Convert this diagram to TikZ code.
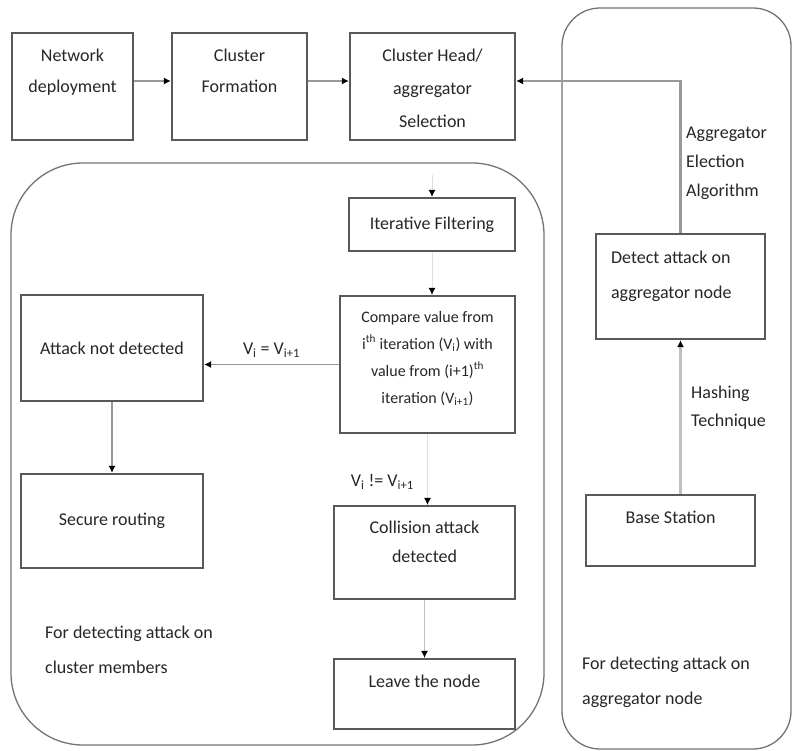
\documentclass[tikz,border=0pt]{standalone}
\usepackage{fontspec}
\setmainfont{Carlito}
\usetikzlibrary{arrows.meta,positioning,calc}

\begin{document}
\begin{tikzpicture}[
  x=1pt, y=-1pt,
  font=\fontsize{18}{31}\selectfont,
  text=black!85,
  box/.style={draw=black!65, line width=2.2pt, align=center, inner sep=2pt},
  toptext/.style={label={[align=center, anchor=north, inner sep=0pt, yshift=-17pt]north:#1}},
  panel/.style={draw=black!55, line width=1.3pt},
  arr/.style={draw=black!40, line width=2.4pt, -{Latex[length=7pt, width=7pt, black]}},
  faint/.style={arr, draw=black!12, line width=1pt},
  note/.style={align=left, inner sep=0pt, anchor=north west}
]
\useasboundingbox (0,0) rectangle (793,751);

% ---------- Paneles ----------
\draw[panel, rounded corners=72pt] (11,163) rectangle (544,745);
\draw[panel, rounded corners=38pt] (562,8) rectangle (791,749);

% ---------- Fila superior ----------
\node[box, minimum width=121pt, minimum height=107pt,
      toptext={Network\\deployment}] (deploy) at (72.5,86.5) {};
\node[box, minimum width=135pt, minimum height=107pt,
      toptext={Cluster\\Formation}] (form) at (239.5,86.5) {};
\node[box, minimum width=165pt, minimum height=107pt,
      label={[align=center, anchor=north, inner sep=0pt, yshift=-17pt,
              font=\fontsize{18}{33}\selectfont]north:Cluster Head/\\aggregator\\Selection}] (head) at (432.5,86.5) {};
\draw[arr] ([yshift=5.5pt]deploy.east) -- ([yshift=5.5pt]form.west);
\draw[arr] ([yshift=5.5pt]form.east) -- ([yshift=5.5pt]head.west);

% ---------- Miembros del cluster ----------
\coordinate (itin) at (432,175);
\node[box, minimum width=166pt, minimum height=53pt] (filter) at (432,224.5) {Iterative Filtering};
\node[box, minimum width=175pt, minimum height=137pt,
      label={[align=center, anchor=north, inner sep=0pt, yshift=-16pt,
              font=\fontsize{16}{27}\selectfont]north:Compare value from\\
              i\textsuperscript{th} iteration (V\textsubscript{i}) with\\
              value from (i+1)\textsuperscript{th}\\
              iteration (V\textsubscript{i+1})}] (compare) at (427.5,364.5) {};
\node[box, minimum width=182pt, minimum height=106pt] (notdet) at (112,348) {Attack not detected};
\node[box, minimum width=182pt, minimum height=94pt] (secure) at (112,521) {Secure routing};
\node[box, minimum width=181pt, minimum height=93pt,
      label={[align=center, anchor=north, inner sep=0pt, yshift=-16pt,
              font=\fontsize{18}{29}\selectfont]north:Collision attack\\detected}] (collision) at (424.5,552.5) {};
\node[box, minimum width=181pt, minimum height=70pt,
      toptext={Leave the node}] (leave) at (424.5,694) {};

\draw[faint] (itin) -- (filter.north);
\draw[faint] (filter.south) -- (filter.south |- compare.north);
\draw[arr, line width=1.4pt] (compare.west) -- (compare.west -| notdet.east)
  node[midway, above=3pt] (eq) {V\textsubscript{i} = V\textsubscript{i+1}};
\draw[arr] (notdet) -- (secure);
\draw[faint] (compare.south) -- (compare.south |- collision.north)
  node[pos=0.68, xshift=-10pt, anchor=east] (neq) {V\textsubscript{i} != V\textsubscript{i+1}};
\draw[faint, draw=black!25] (collision) -- (leave);

\node[note, font=\fontsize{18}{35}\selectfont] (cmtxt) at (45,626) {For detecting attack on\\cluster members};

% ---------- Nodo agregador ----------
\node[box, minimum width=169pt, minimum height=105pt,
      label={[align=left, anchor=north west, inner sep=0pt, xshift=16pt, yshift=-18pt,
              font=\fontsize{18}{35}\selectfont]north west:Detect attack on\\aggregator node}] (detect) at (680.5,286.5) {};
\node[box, minimum width=169pt, minimum height=71pt,
      toptext={Base Station}] (base) at (670.5,530.5) {};
\draw[arr] (detect.north) |- ([yshift=5.5pt]head.east);
\draw[arr, draw=black!25] (base.north -| detect.south) -- (detect.south);
\node[note, font=\fontsize{18}{29}\selectfont] (elect) at (686,127) {Aggregator\\Election\\Algorithm};
\node[note, font=\fontsize{18}{28}\selectfont] (hash) at (691,386) {Hashing\\Technique};
\node[note, font=\fontsize{18}{35}\selectfont] (agtxt) at (582,657) {For detecting attack on\\aggregator node};

\end{tikzpicture}
\end{document}
